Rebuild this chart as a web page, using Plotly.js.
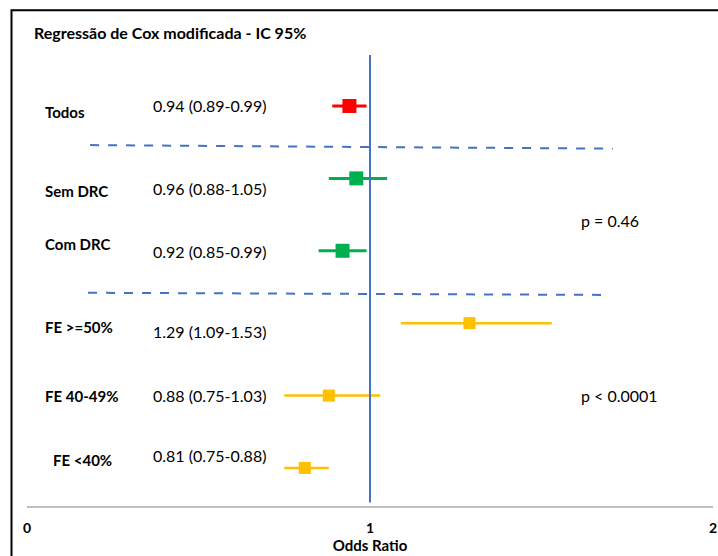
<!DOCTYPE html>
<html><head><meta charset="utf-8">
<script src="https://cdn.plot.ly/plotly-3.0.1.min.js"></script>
<style>html,body{margin:0;padding:0;overflow:hidden;background:#fff}</style>
</head><body><div id="chart" style="width:718px;height:556px"></div>
<script>
// ---- data ----
const groups = ["Todos", "Sem DRC", "Com DRC", "FE >=50%", "FE 40-49%", "FE <40%"];
const oddsRatio = [0.94, 0.96, 0.92, 1.29, 0.88, 0.81];
const ciLow  = [0.89, 0.88, 0.85, 1.09, 0.75, 0.75];
const ciHigh = [0.99, 1.05, 0.99, 1.53, 1.03, 0.88];
const subgroupSet = ["all", "drc", "drc", "fe", "fe", "fe"];
const pLabels = ["p = 0.46", "p < 0.0001"];
const xTicks = [0, 1, 2];
const chartTitle = "Regressão de Cox modificada - IC 95%";
const xTitle = "Odds Ratio";

// ---- styles / layout helpers ----
const FONT = "Lato, 'Open Sans', sans-serif";
const setStyle = {
  all: {color: "#FF0000", size: 14, thick: 3},
  drc: {color: "#00B050", size: 14, thick: 3},
  fe:  {color: "#FFC000", size: 12, thick: 2.5}
};
const labelShift = [-6, -13, 7, -4, 0, 8];   // px, small scan offsets
const valueShift = [0, -10, -1, -8, 0, 12];
const labelXShift = [0, 0, 0, 0, 0, 8];
const pRows = [1.5, 4];
const pShift = [-6, 0];

const rows = groups.map((g, i) => i);

const traces = Object.keys(setStyle).map(key => {
  const idx = rows.filter(i => subgroupSet[i] === key);
  const st = setStyle[key];
  return {
    type: "scatter", mode: "markers",
    x: idx.map(i => oddsRatio[i]),
    y: idx.map(i => rows[i]),
    marker: {symbol: "square", size: st.size, color: st.color},
    error_x: {
      type: "data", symmetric: false,
      array: idx.map(i => ciHigh[i] - oddsRatio[i]),
      arrayminus: idx.map(i => oddsRatio[i] - ciLow[i]),
      color: st.color, thickness: st.thick, width: 0
    },
    hoverinfo: "skip", showlegend: false
  };
});

const annotations = [];
groups.forEach((g, i) => {
  annotations.push({
    xref: "x", yref: "y", x: 0.0466, y: rows[i], text: "<b>" + g + "</b>",
    xanchor: "left", yanchor: "middle", showarrow: false,
    yshift: labelShift[i], xshift: labelXShift[i],
    font: {family: FONT, size: 15, color: "#000"}
  });
  annotations.push({
    xref: "x", yref: "y", x: 0.3615, y: rows[i],
    text: oddsRatio[i].toFixed(2) + " (" + ciLow[i].toFixed(2) + "-" + ciHigh[i].toFixed(2) + ")",
    xanchor: "left", yanchor: "middle", showarrow: false, yshift: valueShift[i],
    font: {family: FONT, size: 16, color: "#000"}
  });
});
pLabels.forEach((p, k) => {
  annotations.push({
    xref: "x", yref: "y", x: 1.609, y: pRows[k], text: p,
    xanchor: "left", yanchor: "middle", showarrow: false, yshift: pShift[k],
    font: {family: FONT, size: 16, color: "#000"}
  });
});

const dash = {color: "#4472C4", width: 2, dash: "dash"};
const shapes = [
  {type: "line", xref: "x", yref: "y", x0: 0.184, x1: 1.708, y0: 0.54, y1: 0.59, line: dash},
  {type: "line", xref: "x", yref: "y", x0: 0.178, x1: 1.70, y0: 2.58, y1: 2.61, line: dash},
  {type: "line", xref: "x", yref: "paper", x0: 1, x1: 1, y0: 0.008, y1: 1, line: {color: "#4472C4", width: 2}},
  {type: "rect", xref: "paper", yref: "paper", x0: -0.0226, x1: 1.05, y0: -0.3, y1: 1.099,
   line: {color: "#000", width: 2}, fillcolor: "rgba(0,0,0,0)"}
];

const layout = {
  width: 718, height: 556,
  margin: {l: 27, r: 5, t: 55, b: 50},
  paper_bgcolor: "#fff", plot_bgcolor: "#fff",
  title: {text: "<b>" + chartTitle + "</b>", xref: "container", yref: "container",
          x: 34 / 718, xanchor: "left", y: 1 - 33 / 556, yanchor: "middle",
          font: {family: FONT, size: 16, color: "#000"}},
  xaxis: {
    range: [0, 2], tickvals: xTicks, ticktext: xTicks.map(t => "<b>" + t + "</b>"),
    showgrid: false, zeroline: false, showline: true, linecolor: "#BFBFBF", linewidth: 2,
    ticks: "", ticklabelstandoff: 8, ticklabeloverflow: "allow",
    tickfont: {family: FONT, size: 14, color: "#000"},
    title: {text: "<b>" + xTitle + "</b>", standoff: 2, font: {family: FONT, size: 15, color: "#000"}}
  },
  yaxis: {range: [5.525, -0.704], visible: false, showgrid: false, zeroline: false},
  annotations: annotations,
  shapes: shapes
};

Plotly.newPlot("chart", traces, layout, {displayModeBar: false, staticPlot: true});
</script></body></html>
